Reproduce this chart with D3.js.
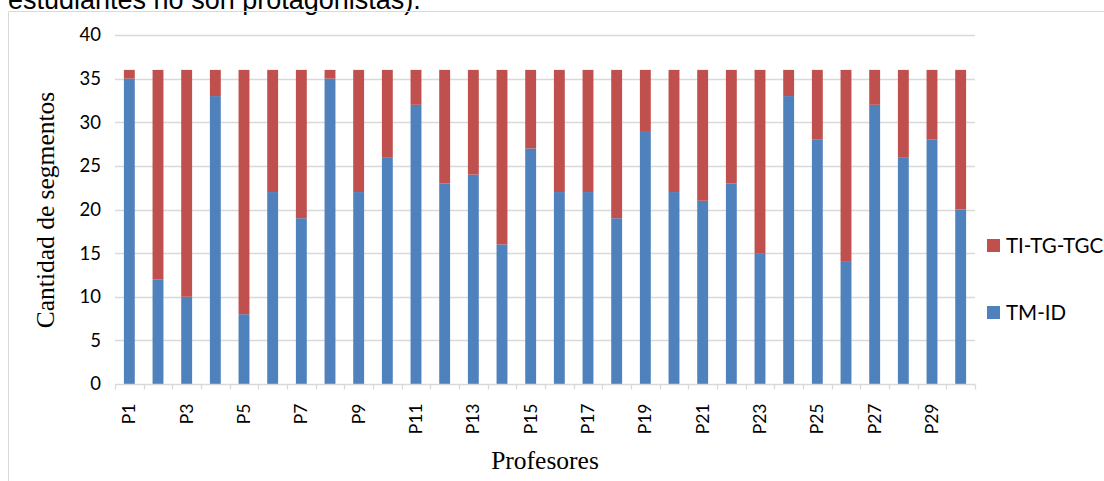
<!DOCTYPE html>
<html>
<head>
<meta charset="utf-8">
<script src="https://cdn.jsdelivr.net/npm/d3@7"></script>
<style>
  html, body { margin: 0; padding: 0; background: #fff; overflow: hidden; }
  svg { display: block; }
</style>
</head>
<body>
<svg id="chart" width="1104" height="481"></svg>
<script>
// values
const profesores = d3.range(1, 31).map((i) => 'P' + i);
const tmId = [35, 12, 10, 33, 8, 22, 19, 35, 22, 26, 32, 23, 24, 16, 27,
  22, 22, 19, 29, 22, 21, 23, 15, 33, 28, 14, 32, 26, 28, 20];
const tiTgTgc = [1, 24, 26, 3, 28, 14, 17, 1, 14, 10, 4, 13, 12, 20, 9,
  14, 14, 17, 7, 14, 15, 13, 21, 3, 8, 22, 4, 10, 8, 16];
const yTicks = [0, 5, 10, 15, 20, 25, 30, 35, 40];
const seriesNames = ['TM-ID', 'TI-TG-TGC'];
const seriesColors = ['#4F81BD', '#C0504D'];

const width = 1104;
const height = 481;
const margin = { left: 115, right: 129, top: 35, bottom: 97 };

const svg = d3.select('#chart');

// text cut from the page above the chart
svg.append('text')
  .attr('x', 8)
  .attr('y', 9)
  .attr('font-family', 'Liberation Sans, Arial, sans-serif')
  .attr('font-size', 27)
  .attr('fill', '#000')
  .text('estudiantes no son protagonistas).');

// chart frame
svg.append('path')
  .attr('d', `M8.5,${height}V11.5H${width}`)
  .attr('fill', 'none')
  .attr('stroke', '#D9D9D9');

const rows = profesores.map((p, i) => ({ name: p, 'TM-ID': tmId[i], 'TI-TG-TGC': tiTgTgc[i] }));
const stacked = d3.stack().keys(seriesNames)(rows);

const x = d3.scaleBand()
  .domain(profesores)
  .range([margin.left, width - margin.right])
  .paddingInner(0.62)
  .paddingOuter(0.31);

const y = d3.scaleLinear()
  .domain([0, 40])
  .range([height - margin.bottom, margin.top]);

// gridlines
svg.append('g')
  .selectAll('line')
  .data(yTicks.slice(1))
  .join('line')
  .attr('x1', margin.left)
  .attr('x2', width - margin.right)
  .attr('y1', (d) => Math.round(y(d)) + 0.5)
  .attr('y2', (d) => Math.round(y(d)) + 0.5)
  .attr('stroke', '#D9D9D9')
  .attr('stroke-width', 1.3);

// y labels
svg.append('g')
  .selectAll('text')
  .data(yTicks)
  .join('text')
  .attr('x', 101)
  .attr('y', (d) => y(d))
  .attr('dy', '0.35em')
  .attr('text-anchor', 'end')
  .attr('font-family', 'Lato, Open Sans, sans-serif')
  .attr('font-size', 18.5)
  .attr('fill', '#000')
  .text((d) => d);

// bars
svg.append('g')
  .selectAll('g')
  .data(stacked)
  .join('g')
  .attr('fill', (d, i) => seriesColors[i])
  .selectAll('rect')
  .data((d) => d)
  .join('rect')
  .attr('x', (d) => x(d.data.name))
  .attr('y', (d) => y(d[1]))
  .attr('width', x.bandwidth())
  .attr('height', (d) => y(d[0]) - y(d[1]));

// x axis
const step = x.step();
const x0 = margin.left;
const xAxis = svg.append('g').attr('transform', `translate(0,${Math.round(y(0)) + 0.5})`);
xAxis.append('line')
  .attr('x1', x0)
  .attr('x2', width - margin.right)
  .attr('stroke', '#D9D9D9')
  .attr('stroke-width', 1.3);
xAxis.selectAll('.tick')
  .data(d3.range(profesores.length + 1))
  .join('line')
  .attr('x1', (i) => Math.round(x0 + i * step) + 0.5)
  .attr('x2', (i) => Math.round(x0 + i * step) + 0.5)
  .attr('y1', 0)
  .attr('y2', 5)
  .attr('stroke', '#D9D9D9')
  .attr('stroke-width', 1.3);

xAxis.selectAll('text')
  .data(profesores.filter((p, i) => i % 2 === 0))
  .join('text')
  .attr('transform', (d) => `translate(${x(d) + x.bandwidth() / 2},19) rotate(-90)`)
  .attr('dy', '0.35em')
  .attr('text-anchor', 'end')
  .attr('font-family', 'Lato, Open Sans, sans-serif')
  .attr('font-size', 17.5)
  .attr('fill', '#000')
  .text((d) => d);

// axis titles
svg.append('text')
  .attr('transform', 'translate(54,210) rotate(-90)')
  .attr('text-anchor', 'middle')
  .attr('font-family', 'Liberation Serif, Times New Roman, serif')
  .attr('font-size', 25.5)
  .attr('fill', '#000')
  .text('Cantidad de segmentos');

svg.append('text')
  .attr('x', 545)
  .attr('y', 469)
  .attr('text-anchor', 'middle')
  .attr('font-family', 'Liberation Serif, Times New Roman, serif')
  .attr('font-size', 25.5)
  .attr('fill', '#000')
  .text('Profesores');

// legend, red entry on top
const legendItems = [
  { name: seriesNames[1], color: seriesColors[1], y: 246 },
  { name: seriesNames[0], color: seriesColors[0], y: 313 },
];
const legend = svg.append('g')
  .selectAll('g')
  .data(legendItems)
  .join('g')
  .attr('transform', (d) => `translate(987,${d.y})`);
legend.append('rect')
  .attr('x', 0)
  .attr('y', -7)
  .attr('width', 13)
  .attr('height', 13)
  .attr('fill', (d) => d.color);
legend.append('text')
  .attr('x', 19)
  .attr('dy', '0.35em')
  .attr('font-family', 'Lato, Open Sans, sans-serif')
  .attr('font-size', 20.5)
  .attr('fill', '#000')
  .text((d) => d.name);
</script>
</body>
</html>
